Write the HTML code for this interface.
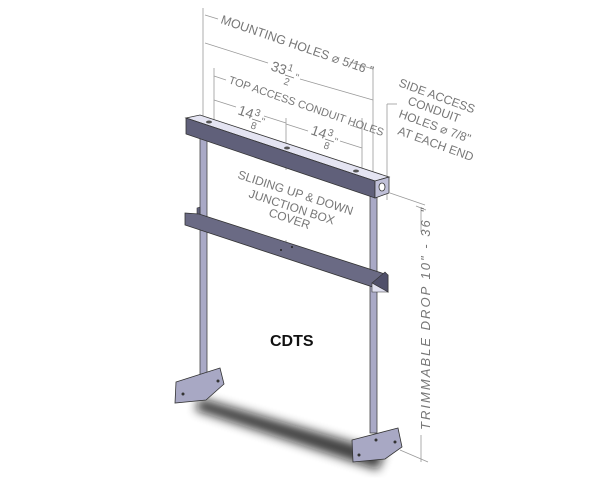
<!DOCTYPE html>
<html><head><style>
html,body{margin:0;padding:0;background:#fff;}
svg{display:block;}
text{font-family:"Liberation Sans",sans-serif;fill:#777;}
</style></head><body>
<svg width="600" height="480" viewBox="0 0 600 480" xmlns="http://www.w3.org/2000/svg">
<defs>
<filter id="bl"><feGaussianBlur stdDeviation="5"/></filter>
</defs>
<!-- shadow -->
<path d="M200,398 L385,452 L378,470 L195,410 Z" fill="#111" opacity="0.8" filter="url(#bl)"/>

<!-- dimension lines -->
<g stroke="#999" stroke-width="0.8" fill="none">
<line x1="203" y1="8" x2="203" y2="118"/>
<line x1="373" y1="66" x2="373" y2="180"/>
<line x1="205" y1="15" x2="218" y2="19"/>
<line x1="350" y1="62" x2="373" y2="69"/>
<line x1="205" y1="43" x2="268" y2="63"/>
<line x1="300" y1="79" x2="373" y2="100"/>
<line x1="214" y1="68" x2="214" y2="122"/>
<line x1="362" y1="118" x2="362" y2="178"/>
<line x1="286" y1="118" x2="286" y2="150"/>
<line x1="214" y1="76" x2="226" y2="80"/>
<line x1="214" y1="100" x2="236" y2="107"/>
<line x1="264" y1="116" x2="286" y2="123"/>
<line x1="286" y1="124" x2="308" y2="131"/>
<line x1="340" y1="141" x2="362" y2="148"/>
<line x1="350" y1="125" x2="362" y2="129"/>
<line x1="387" y1="104" x2="387" y2="200"/>
<line x1="387" y1="104" x2="397" y2="104"/>
<line x1="390" y1="193" x2="425" y2="205"/>
<line x1="421" y1="207" x2="421" y2="232"/>
<line x1="421" y1="435" x2="421" y2="462"/>
<line x1="400" y1="450" x2="428" y2="462"/>
<line x1="416" y1="206" x2="426" y2="210"/>
<line x1="286" y1="170" x2="286" y2="150"/>
<line x1="286" y1="240" x2="286" y2="258"/>
</g>
<g>
<text transform="translate(220,23) rotate(19)" font-size="12.5">MOUNTING HOLES ⌀ 5/16 "</text>
<text transform="translate(270,70) rotate(19)" font-size="14">33</text>
<text transform="translate(287,70) rotate(19)" font-size="10">1</text>
<line x1="285" y1="75" x2="294" y2="78" stroke="#777" stroke-width="0.8"/>
<text transform="translate(283,84) rotate(19)" font-size="10">2</text>
<text transform="translate(294,80) rotate(19)" font-size="10">"</text>
<text transform="translate(228,83) rotate(19)" font-size="11">TOP ACCESS CONDUIT HOLES</text>
<text transform="translate(237,114) rotate(19)" font-size="14">14</text>
<text transform="translate(254,115) rotate(19)" font-size="10">3</text>
<line x1="252" y1="119" x2="261" y2="122" stroke="#777" stroke-width="0.8"/>
<text transform="translate(250,128) rotate(19)" font-size="10">8</text>
<text transform="translate(260,124) rotate(19)" font-size="10">"</text>
<text transform="translate(310,134) rotate(19)" font-size="14">14</text>
<text transform="translate(327,135) rotate(19)" font-size="10">3</text>
<line x1="325" y1="139" x2="334" y2="142" stroke="#777" stroke-width="0.8"/>
<text transform="translate(323,148) rotate(19)" font-size="10">8</text>
<text transform="translate(333,144) rotate(19)" font-size="10">"</text>
<text transform="translate(398,86) rotate(20)" font-size="12">SIDE ACCESS</text>
<text transform="translate(407,104) rotate(20)" font-size="12">CONDUIT</text>
<text transform="translate(398,117) rotate(20)" font-size="12">HOLES ⌀ 7/8"</text>
<text transform="translate(397,134) rotate(20)" font-size="12">AT EACH END</text>
<text transform="translate(237,178) rotate(18)" font-size="12">SLIDING UP &amp; DOWN</text>
<text transform="translate(248,197) rotate(18)" font-size="12">JUNCTION BOX</text>
<text transform="translate(268,216) rotate(18)" font-size="12">COVER</text>
<text transform="translate(430,430) rotate(-90)" font-size="13" font-style="italic" textLength="222" lengthAdjust="spacing">TRIMMABLE  DROP   10" - 36 "</text>
</g>

<!-- posts -->
<rect x="200" y="134" width="7" height="252" fill="#a9a9c6" stroke="#444" stroke-width="0.8"/>
<rect x="370" y="195" width="7" height="238" fill="#a9a9c6" stroke="#444" stroke-width="0.8"/>

<!-- top bar -->
<polygon points="186,118 200,115 389,177 375,181" fill="#e4e4f2" stroke="#333" stroke-width="0.8"/>
<polygon points="186,118 375,181 375,198 186,134" fill="#60607a" stroke="#333" stroke-width="0.8"/>
<polygon points="375,181 389,177 389,193 375,198" fill="#c0c0d8" stroke="#333" stroke-width="0.8"/>
<ellipse cx="382" cy="187" rx="3" ry="4" fill="#fff" stroke="#333" stroke-width="0.8"/>
<ellipse cx="209" cy="122" rx="3" ry="1.5" fill="#555"/>
<ellipse cx="287" cy="148" rx="3" ry="1.5" fill="#555"/>
<ellipse cx="356" cy="171" rx="3" ry="1.5" fill="#555"/>

<!-- channel -->
<polygon points="197,208 200,207 200,216 197,217" fill="#60607a" stroke="#333" stroke-width="0.6"/>
<polygon points="185,213 199,214 388,275 388,292 185,225" fill="#6a6a84" stroke="#333" stroke-width="0.8"/>
<polygon points="372,283 388,292 388,275 385,272" fill="#50506a" stroke="#333" stroke-width="0.6"/>
<polygon points="372,283 388,292 372,292" fill="#e0e0f0" stroke="#333" stroke-width="0.6"/>
<circle cx="281" cy="250" r="1" fill="#222"/>
<circle cx="292" cy="247" r="1" fill="#222"/>

<!-- feet -->
<polygon points="176,382 220,368 224,384 206,400 175,403" fill="#a8a8c4" stroke="#333" stroke-width="0.8"/>
<polygon points="352,440 398,428 402,447 385,459 353,462" fill="#a8a8c4" stroke="#333" stroke-width="0.8"/>
<circle cx="183" cy="394" r="1.5" fill="#333"/><circle cx="218" cy="381" r="1.5" fill="#333"/>
<circle cx="359" cy="455" r="1.5" fill="#333"/><circle cx="395" cy="442" r="1.5" fill="#333"/>
<circle cx="376" cy="440" r="1.5" fill="#333"/>

<text x="270" y="346" font-size="16" font-weight="bold" style="fill:#111">CDTS</text>
</svg>
</body></html>
